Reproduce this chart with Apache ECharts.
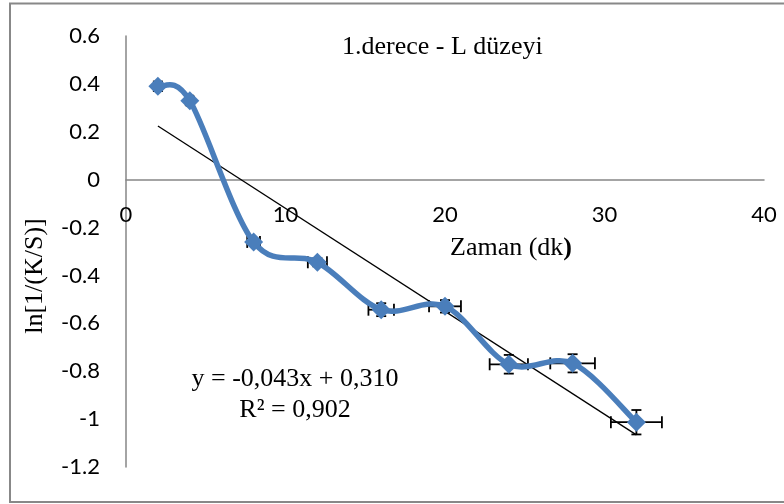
<!DOCTYPE html>
<html>
<head>
<meta charset="utf-8">
<script src="https://cdn.jsdelivr.net/npm/echarts@6/dist/echarts.min.js"></script>
<style>
  html, body { margin: 0; padding: 0; background: #fff; }
  #chart { width: 784px; height: 504px; }
</style>
</head>
<body>
<div id="chart"></div>
<script>
// Time points (minutes) and measured ln[1/(K/S)] values
const timeMin = [2, 4, 8, 12, 16, 20, 24, 28, 32];
const lnValues = [0.39, 0.33, -0.26, -0.345, -0.543, -0.529, -0.771, -0.767, -1.013];
// Error bar half-widths
const timeErr = [0.1, 0.2, 0.4, 0.6, 0.8, 1.0, 1.2, 1.4, 1.6];
const lnErr = [0.02, 0.017, 0.013, 0.017, 0.027, 0.026, 0.039, 0.038, 0.051];
// Linear fit stated on the chart
const fitSlope = -0.043;
const fitIntercept = 0.310;
const fitLabel = 'y = -0,043x + 0,310';
const r2Label = 'R² = 0,902';
const yMin = -1.2, yMax = 0.6, yStep = 0.2;
const xMin = 0, xMax = 40, xStep = 10;

const mainSeries = timeMin.map((t, i) => [t, lnValues[i]]);
const errSeries = timeMin.map((t, i) => [t, lnValues[i], timeErr[i], lnErr[i]]);
const xFirst = timeMin[0], xLast = timeMin[timeMin.length - 1];
const fitLine = [
  [xFirst, fitSlope * xFirst + fitIntercept],
  [xLast, fitSlope * xLast + fitIntercept]
];

const GRID = { left: 126, right: 20, top: 36, bottom: 37 };
const plotH = 504 - GRID.top - GRID.bottom;
// x axis crosses the value axis at 0
const xAxisOffset = -plotH * (0 - yMin) / (yMax - yMin);

const chart = echarts.init(document.getElementById('chart'), null, { renderer: 'canvas' });

function renderErrorBar(params, api) {
  const x = api.value(0), y = api.value(1), ex = api.value(2), ey = api.value(3);
  const c = api.coord([x, y]);
  const l = api.coord([x - ex, y]);
  const r = api.coord([x + ex, y]);
  const t = api.coord([x, y + ey]);
  const b = api.coord([x, y - ey]);
  const style = { stroke: '#000', lineWidth: 1.8 };
  const capH = 6, capW = 5;
  const seg = (x1, y1, x2, y2) => ({ type: 'line', shape: { x1, y1, x2, y2 }, style });
  return {
    type: 'group',
    children: [
      seg(l[0], c[1], r[0], c[1]),
      seg(l[0], c[1] - capH, l[0], c[1] + capH),
      seg(r[0], c[1] - capH, r[0], c[1] + capH),
      seg(c[0], t[1], c[0], b[1]),
      seg(c[0] - capW, t[1], c[0] + capW, t[1]),
      seg(c[0] - capW, b[1], c[0] + capW, b[1])
    ]
  };
}

// Smoothed connector: one cubic Bezier per segment, Catmull-Rom style tangents
function renderSmoothSegment(params, api) {
  const i = params.dataIndex;
  const n = mainSeries.length;
  if (i >= n - 1) return null;
  const p = k => api.coord(mainSeries[Math.max(0, Math.min(n - 1, k))]);
  const p0 = p(i - 1), p1 = p(i), p2 = p(i + 1), p3 = p(i + 2);
  const k = 1 / 6;
  const c1 = [p1[0] + (p2[0] - p0[0]) * k, p1[1] + (p2[1] - p0[1]) * k];
  const c2 = [p2[0] - (p3[0] - p1[0]) * k, p2[1] - (p3[1] - p1[1]) * k];
  return {
    type: 'bezierCurve',
    shape: { x1: p1[0], y1: p1[1], cpx1: c1[0], cpy1: c1[1], cpx2: c2[0], cpy2: c2[1], x2: p2[0], y2: p2[1] },
    style: { stroke: '#4a7ebb', lineWidth: 5.5, fill: 'none', lineCap: 'round' }
  };
}

const axisFont = { fontFamily: 'Lato', fontSize: 22, color: '#000' };
const serif = '26px "Liberation Serif"';

chart.setOption({
  animation: false,
  backgroundColor: '#fff',
  grid: Object.assign({ containLabel: false, outerBoundsMode: 'none' }, GRID),
  xAxis: {
    type: 'value',
    min: xMin, max: xMax, interval: xStep,
    position: 'bottom',
    offset: xAxisOffset,
    axisLine: { onZero: false, lineStyle: { color: '#868686', width: 1.5 } },
    axisTick: { show: false },
    splitLine: { show: false },
    axisLabel: Object.assign({ margin: 24 }, axisFont)
  },
  yAxis: {
    type: 'value',
    min: yMin, max: yMax, interval: yStep,
    axisLine: { show: true, onZero: false, lineStyle: { color: '#868686', width: 1.5 } },
    axisTick: { show: false },
    splitLine: { show: false },
    axisLabel: Object.assign({ margin: 26, formatter: v => String(+v.toFixed(1)) }, axisFont)
  },
  series: [
    {
      type: 'custom',
      renderItem: renderErrorBar,
      data: errSeries,
      z: 2,
      silent: true
    },
    {
      type: 'line',
      data: fitLine,
      symbol: 'none',
      lineStyle: { color: '#000', width: 1.3 },
      z: 3,
      silent: true
    },
    {
      type: 'custom',
      renderItem: renderSmoothSegment,
      data: mainSeries,
      z: 4,
      silent: true
    },
    {
      type: 'scatter',
      data: mainSeries,
      symbol: 'diamond',
      symbolSize: 19,
      itemStyle: { color: '#4a7ebb', opacity: 1 },
      emphasis: { disabled: true },
      z: 5
    }
  ],
  graphic: [
    {
      type: 'rect',
      shape: { x: 10, y: 3.5, width: 800, height: 498.5 },
      style: { fill: 'none', stroke: '#888', lineWidth: 2 },
      silent: true, z: 0
    },
    {
      type: 'text', x: 342, y: 47,
      style: { text: '1.derece - L düzeyi', font: serif, fill: '#000', verticalAlign: 'middle' }
    },
    {
      type: 'text', x: 511, y: 248,
      style: {
        text: '{a|Zaman (dk}{b|)}',
        rich: {
          a: { fontFamily: 'Liberation Serif', fontSize: 26, fill: '#000' },
          b: { fontFamily: 'Liberation Serif', fontSize: 26, fontWeight: 'bold', fill: '#000' }
        },
        align: 'center', verticalAlign: 'middle'
      }
    },
    {
      type: 'text', x: 35, y: 276, rotation: Math.PI / 2,
      style: { text: 'ln[1/(K/S)]', font: serif, fill: '#000', align: 'center', verticalAlign: 'middle' }
    },
    {
      type: 'text', x: 295, y: 379,
      style: { text: fitLabel, font: serif, fill: '#000', align: 'center', verticalAlign: 'middle' }
    },
    {
      type: 'text', x: 295, y: 410,
      style: { text: r2Label, font: serif, fill: '#000', align: 'center', verticalAlign: 'middle' }
    }
  ]
});
</script>
</body>
</html>
